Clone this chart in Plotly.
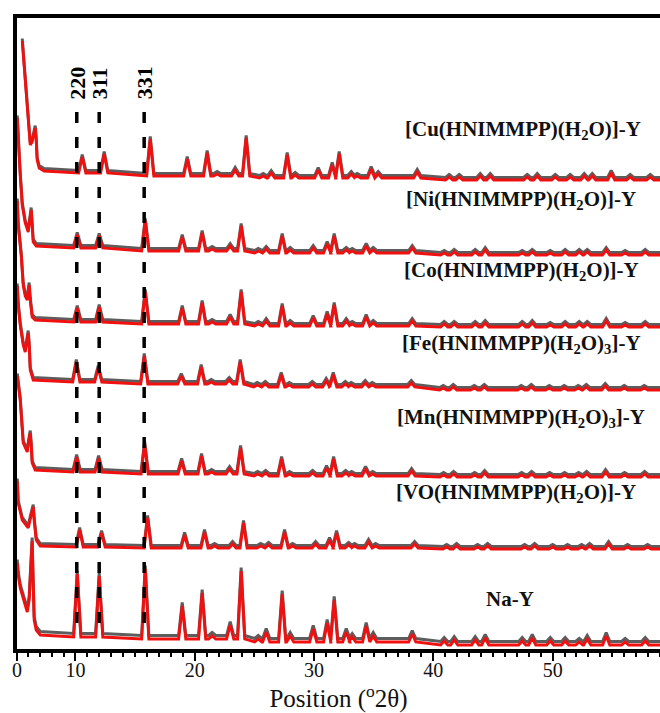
import numpy as np
import plotly.graph_objects as go

# ---- diffraction data (2-theta in degrees, intensity in stacked arbitrary units) ----
peak_2theta = [10.15, 11.99, 15.85, 18.95, 20.62, 21.46, 22.97, 23.89, 25.32, 25.99,
               27.33, 28.00, 29.93, 31.10, 31.69, 32.70, 33.20, 34.37, 34.96, 38.23,
               40.91, 41.75, 43.51, 44.35, 47.45, 48.29, 49.80, 51.05, 52.23, 52.90,
               54.49, 56.08, 57.76]
baseline_edges = [14.0, 25.0, 40.0]   # baseline level changes at these angles

sample_names = [
    "[Cu(HNIMMPP)(H<sub>2</sub>O)]-Y",
    "[Ni(HNIMMPP)(H<sub>2</sub>O)]-Y",
    "[Co(HNIMMPP)(H<sub>2</sub>O)]-Y",
    "[Fe(HNIMMPP)(H<sub>2</sub>O)<sub>3</sub>]-Y",
    "[Mn(HNIMMPP)(H<sub>2</sub>O)<sub>3</sub>]-Y",
    "[VO(HNIMMPP)(H<sub>2</sub>O)]-Y",
    "Na-Y",
]
peak_shift = [0.42, 0.0, 0.0, -0.08, -0.05, 0.20, 0.0]
gray_lift = [2.5, 2.5, 2.5, 2.5, 2.5, 2.5, 3.5]

cu_base = [478, 475, 473, 471]
ni_base = [403, 400, 398, 396]
co_base = [329, 327, 325, 324]
fe_base = [269, 267, 264, 261]
mn_base = [179, 177, 175, 174]
vo_base = [104, 103, 103, 102]
nay_base = [14, 12, 9, 6]

cu_heights = [16, 19, 37, 17, 23, 2, 6, 38, 2, 5, 23, 3, 8, 13, 24, 4, 2, 9, 4, 6,
              3, 3, 4, 4, 3, 4, 3, 3, 4, 4, 7, 3, 3]
ni_heights = [13, 12, 30, 14, 18, 2, 5, 25, 2, 4, 17, 3, 5, 9, 17, 3, 2, 7, 3, 5,
              2, 3, 3, 5, 2, 3, 2, 3, 3, 3, 5, 2, 3]
co_heights = [14, 15, 32, 16, 21, 2, 7, 32, 2, 5, 20, 3, 8, 12, 21, 5, 2, 9, 3, 5,
              3, 3, 3, 4, 3, 4, 2, 3, 3, 3, 6, 2, 3]
fe_heights = [20, 14, 28, 8, 17, 2, 4, 22, 2, 3, 12, 2, 3, 6, 12, 3, 2, 4, 2, 4,
              2, 3, 2, 3, 2, 3, 2, 2, 2, 3, 4, 2, 2]
mn_heights = [15, 14, 30, 13, 18, 2, 5, 26, 2, 3, 17, 2, 3, 8, 17, 3, 2, 7, 2, 5,
              2, 3, 2, 4, 2, 3, 2, 2, 2, 3, 5, 2, 3]
vo_heights = [17, 14, 30, 13, 16, 2, 4, 25, 2, 3, 16, 2, 4, 8, 15, 3, 2, 6, 2, 4,
              2, 3, 2, 3, 2, 3, 2, 2, 2, 3, 5, 2, 2]
nay_heights = [63, 61, 70, 33, 46, 3, 14, 68, 3, 10, 48, 6, 13, 19, 42, 10, 5, 16, 6, 8,
               4, 5, 5, 7, 4, 7, 4, 4, 3, 6, 9, 3, 4]

# low-angle region (background tail and the 111 reflection)
cu_low = [(5.54, 610), (5.70, 586), (5.87, 556), (6.04, 529), (6.21, 506), (6.37, 509),
          (6.54, 521), (6.63, 523), (6.71, 511), (6.79, 491), (6.96, 483), (7.38, 480)]
ni_low = [(5.12, 533), (5.20, 511), (5.37, 476), (5.54, 446), (5.79, 428), (6.04, 419),
          (6.12, 426), (6.29, 441), (6.37, 426), (6.46, 409), (6.71, 405)]
co_low = [(5.12, 450), (5.20, 426), (5.45, 396), (5.62, 366), (5.79, 355), (5.96, 351),
          (6.04, 359), (6.12, 366), (6.21, 351), (6.37, 334), (6.63, 331)]
fe_low = [(5.12, 365), (5.20, 346), (5.37, 326), (5.62, 306), (5.79, 299), (5.87, 306),
          (6.04, 318), (6.12, 306), (6.21, 281), (6.46, 271)]
mn_low = [(5.12, 275), (5.20, 266), (5.37, 251), (5.62, 208), (5.96, 199), (6.04, 206),
          (6.21, 218), (6.29, 206), (6.37, 188), (6.63, 181)]
vo_low = [(5.12, 170), (5.20, 148), (5.54, 131), (5.87, 125), (6.04, 123), (6.29, 136),
          (6.46, 144), (6.54, 131), (6.71, 111), (7.05, 105)]
nay_low = [(5.12, 88), (5.20, 76), (5.37, 63), (5.70, 48), (5.96, 39), (6.12, 51),
           (6.29, 103), (6.37, 110), (6.46, 66), (6.54, 31), (6.71, 21), (7.05, 16)]

hkl_2theta = [10.11, 11.99, 15.76]
hkl_labels = ["220", "311", "331"]

x_tick_vals = [5.10, 10, 20, 30, 40, 50]
x_tick_text = ["0", "10", "20", "30", "40", "50"]

X_MIN, X_MAX = 5.10, 59.0
Y_MIN, Y_MAX = 2, 633
HALF_WIDTH = 0.3
SERIF = "Liberation Serif, Times New Roman, serif"

lows = [cu_low, ni_low, co_low, fe_low, mn_low, vo_low, nay_low]
heights = [cu_heights, ni_heights, co_heights, fe_heights, mn_heights, vo_heights, nay_heights]
bases = [cu_base, ni_base, co_base, fe_base, mn_base, vo_base, nay_base]


def profile(low, hts, base, shift):
    xs = [p[0] for p in low]
    ys = [p[1] for p in low]
    for pos, h in zip(peak_2theta, hts):
        c = pos + shift
        b = base[int(np.searchsorted(baseline_edges, c))]
        xs += [c - HALF_WIDTH, c, c + HALF_WIDTH]
        ys += [b, b + h, b]
    xs.append(X_MAX)
    ys.append(base[-1])
    return xs, ys


fig = go.Figure()

for name, low, hts, base, shift, lift in zip(sample_names, lows, heights, bases,
                                               peak_shift, gray_lift):
    xs, ys = profile(low, hts, base, shift)
    fig.add_trace(go.Scatter(x=xs, y=[v + lift for v in ys], mode="lines",
                             line=dict(color="rgba(75,75,75,0.9)", width=3),
                             hoverinfo="skip", showlegend=False))
    fig.add_trace(go.Scatter(x=xs, y=ys, mode="lines", name=name,
                             line=dict(color="#f01010", width=2.9),
                             showlegend=False))

# Miller-index guide lines
for pos in hkl_2theta:
    fig.add_trace(go.Scatter(x=[pos, pos], y=[539, 16], mode="lines",
                             line=dict(color="black", width=3.5, dash="11px,14px"),
                             hoverinfo="skip", showlegend=False))

# plot area in pixels: left 17, right 660, top 18, bottom 649
def px_to_paper(px, py):
    return (px - 17) / 643.0, (649 - py) / 631.0


annotations = []
for pos, lab in zip(hkl_2theta, hkl_labels):
    annotations.append(dict(x=pos, y=568, xref="x", yref="y", text="<b>" + lab + "</b>",
                            textangle=-90, showarrow=False,
                            xanchor="center", yanchor="middle",
                            font=dict(family=SERIF, size=22, color="black")))

label_px = [(523, 130), (521, 200), (521, 271), (521, 344), (521, 418), (516, 493), (510, 599)]
for name, (px, py) in zip(sample_names, label_px):
    xp, yp = px_to_paper(px, py)
    annotations.append(dict(x=xp, y=yp, xref="paper", yref="paper",
                            xanchor="center", yanchor="middle",
                            text="<b>" + name + "</b>", showarrow=False,
                            font=dict(family=SERIF, size=21, color="#111")))

fig.update_layout(
    width=660, height=713,
    margin=dict(l=17, r=0, t=18, b=64),
    paper_bgcolor="white", plot_bgcolor="white",
    annotations=annotations,
    xaxis=dict(
        range=[X_MIN, X_MAX], showgrid=False, zeroline=False,
        showline=True, linecolor="black", linewidth=4, mirror=True,
        ticks="outside", ticklen=8, tickwidth=2, tickcolor="black",
        tickvals=x_tick_vals, ticktext=x_tick_text, ticklabelstandoff=-8,
        tickfont=dict(family=SERIF, size=20, color="#111"),
        minor=dict(dtick=1, tick0=0, ticks="outside", ticklen=4, tickwidth=1.5,
                   tickcolor="black", showgrid=False),
        title=dict(text="Position (<sup>o</sup>2θ)", standoff=0,
                   font=dict(family=SERIF, size=25, color="#111")),
    ),
    yaxis=dict(
        range=[Y_MIN, Y_MAX], showgrid=False, zeroline=False,
        showline=True, linecolor="black", linewidth=4, mirror=False,
        showticklabels=False, ticks="",
    ),
)

fig.write_html("out.html")
